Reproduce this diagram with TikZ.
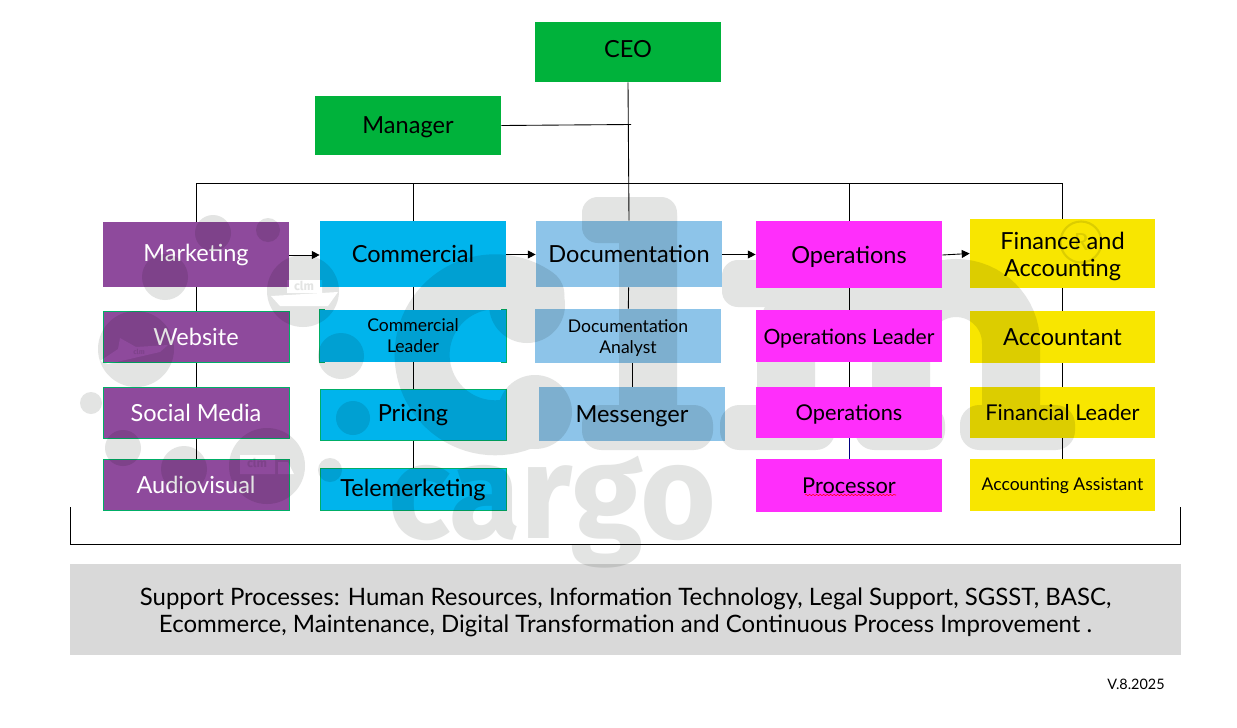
\documentclass[tikz,border=0pt]{standalone}
\usepackage{xcolor}
\usepackage{fontspec}
\setmainfont{Lato}
\newfontfamily\wmfont{Fira Sans}
\usetikzlibrary{calc,arrows.meta,decorations.pathmorphing}
\definecolor{orggreen}{HTML}{00B23B}
\definecolor{edgegreen}{HTML}{00AE66}
\definecolor{orgpurple}{HTML}{8E4A9C}
\definecolor{orgcyan}{HTML}{00B4EC}
\definecolor{orgblue}{HTML}{8DC4E9}
\definecolor{orgpink}{HTML}{FF2EFB}
\definecolor{orgyellow}{HTML}{F8E600}
\definecolor{orggrey}{HTML}{D9D9D9}
\definecolor{wmgrey}{HTML}{E3E4E3}
\begin{document}
\begin{tikzpicture}[x=0.02cm,y=0.02cm]
                \tikzstyle{every node}+=[inner sep=0pt]
                \tikzstyle{box}=[minimum width=3.72cm,align=center,text=black]
                \tikzstyle{lg}=[font=\fontsize{13.4}{15.5}\selectfont]
                \tikzstyle{md}=[font=\fontsize{12.4}{15}\selectfont]
                \tikzstyle{sm}=[font=\fontsize{10}{12}\selectfont]
                \tikzstyle{purplebox}=[box,fill=orgpurple,text=white]
                \tikzstyle{edged}=[draw=edgegreen,line width=0.5pt]
                \tikzstyle{cyanbox}=[box,fill=orgcyan]
                \tikzstyle{blueBox}=[box,fill=orgblue]
                \tikzstyle{pinkbox}=[box,fill=orgpink]
                \tikzstyle{yellowbox}=[box,fill=orgyellow]
                \tikzstyle{wire}=[black,line width=0.5pt]
                \tikzstyle{link}=[wire,-{Triangle[length=4.5pt,width=4.5pt]}]
                \tikzstyle{wm}=[wmgrey,line cap=round]
                \path [fill=white,use as bounding box] (0,0) rectangle (1237,-727);
                % top of the chart
                \node [box,lg,fill=orggreen,minimum height=1.2cm] (ceo) at (628,-52) {\raisebox{3.4pt}{CEO}};
                \node [box,lg,fill=orggreen,minimum height=1.18cm] (manager) at (408,-125.5) {\rule{0pt}{11pt}Manager};
                % marketing column
                \node [purplebox,lg,minimum height=1.3cm] (marketing) at (196,-254.5) {\raisebox{1.2pt}{Marketing}};
                \node [purplebox,edged,lg,minimum height=1.03cm] (website) at (196,-337) {Website};
                \node [purplebox,edged,lg,minimum height=1.03cm] (socialmedia) at (196,-413) {Social Media};
                \node [purplebox,edged,lg,minimum height=1.03cm] (audiovisual) at (196,-485) {Audiovisual};
                % commercial column
                \node [cyanbox,lg,minimum height=1.32cm] (commercial) at (413,-254) {Commercial};
                \node [cyanbox,sm,minimum height=1.04cm] (comleader) at (413,-336) {Commercial\\Leader};
                \node [cyanbox,edged,lg,minimum height=1.03cm] (pricing) at (413,-415) {Pricing};
                \node [cyanbox,edged,lg,minimum height=0.85cm] (telemerketing) at (413,-489.5) {Telemerketing};
                \draw [edgegreen,line width=0.4pt] ([xshift=0.1cm]comleader.north west) -- (comleader.north west) -- (comleader.south west) -- ([xshift=0.1cm]comleader.south west);
                \draw [edgegreen,line width=0.4pt] ([xshift=-0.1cm]comleader.north east) -- (comleader.north east) -- (comleader.south east) -- ([xshift=-0.1cm]comleader.south east);
                % documentation column
                \node [blueBox,lg,minimum height=1.32cm] (documentation) at (629,-254) {Documentation};
                \node [blueBox,sm,minimum height=1.08cm] (docanalyst) at (628,-336) {\rule{0pt}{9.6pt}Documentation\\Analyst};
                \node [blueBox,lg,minimum height=1.08cm] (messenger) at (632,-414) {\rule{0pt}{12pt}Messenger};
                % finance column
                \node [yellowbox,lg,minimum height=1.38cm,minimum width=3.7cm] (finance) at (1062.5,-253.5) {\rule{0pt}{13pt}Finance and\\Accounting};
                \node [yellowbox,lg,minimum height=1.04cm,minimum width=3.7cm] (accountant) at (1062.5,-337) {Accountant};
                \node [yellowbox,md,minimum height=1.02cm,minimum width=3.7cm] (finleader) at (1062.5,-412.5) {Financial Leader};
                \node [yellowbox,sm,minimum height=1.04cm,minimum width=3.7cm] (accassistant) at (1062.5,-485) {\rule{0pt}{8.4pt}Accounting Assistant};
                % support bar and version
                \node [fill=orggrey,minimum width=22.22cm,minimum height=1.82cm,align=center,font=\fontsize{13.65}{15.4}\selectfont] (support) at (625.5,-609.5) {\rule{0pt}{13pt}Support Processes: Human Resources, Information Technology, Legal Support, SGSST, BASC,\\Ecommerce, Maintenance, Digital Transformation and Continuous Process Improvement .};
                \node [font=\fontsize{8.2}{10}\selectfont] (version) at (1136,-684) {V.8.2025};
                % watermark
                \begin{scope}[blend mode=multiply]
                \begin{scope}[transparency group]
                \fill [wm] (165,-277) circle (23);
                \fill [wm] (213,-233) circle (18);
                \fill [wm] (268,-230) circle (12);
                \fill [wm] (303,-291) circle (36);
                \fill [wm] (136,-349) circle (38);
                \fill [wm] (91,-403) circle (11);
                \fill [wm] (123,-448) circle (18);
                \fill [wm] (184,-469) circle (23);
                \fill [wm] (267,-466) circle (38);
                \fill [wm] (341,-356) circle (23);
                \fill [wm] (353,-418) circle (17);
                \fill [wm] (330,-470) circle (12);
                % ship, plane, truck
                \fill [white] (271,-296) -- (338,-292) -- (328,-306) -- (280,-306) -- cycle;
                \fill [white] (287,-280) rectangle (322,-293);
                \fill [white] (100,-361) -- (118,-349) -- (120,-338) -- (136,-347) -- (168,-345) -- (160,-352) -- (108,-364) -- cycle;
                \fill [white] (240,-455) rectangle (275,-474);
                \fill [white] (278,-462) -- (288,-462) -- (294,-474) -- (278,-474) -- cycle;
                \node [wmgrey,font=\wmfont\bfseries\fontsize{7}{8}\selectfont] (clmship) at (304,-286) {clm};
                \node [wmgrey,font=\wmfont\bfseries\fontsize{4}{5}\selectfont] (clmplane) at (139,-352) {clm};
                \node [wmgrey,font=\wmfont\bfseries\fontsize{7}{8}\selectfont] (clmtruck) at (257,-463) {clm};
                % c
                \draw [wm,line width=1.1cm] (537,-295) arc (55:305:73);
                \fill [wm] (527,-305) circle (38);
                \fill [wm] (535,-412) circle (37);
                % l
                \fill [wm,rounded corners=9pt] (582,-197) rectangle (677,-243);
                \fill [wm,rounded corners=6pt] (619,-205) rectangle (677,-440);
                \fill [wm,rounded corners=11pt] (582,-405) rectangle (713,-450);
                % m
                \draw [wm,line width=1.16cm,line cap=butt] (786,-430) -- (786,-343) arc (180:0:57.5) -- (901,-430);
                \draw [wm,line width=1.16cm,line cap=butt] (901,-343) arc (180:0:55) -- (1011,-430);
                \fill [wm,rounded corners=9pt] (722,-260) rectangle (790,-307);
                \fill [wm,rounded corners=11pt] (720,-405) rectangle (835,-450);
                \fill [wm,rounded corners=11pt] (855,-405) rectangle (945,-450);
                \fill [wm,rounded corners=11pt] (960,-405) rectangle (1075,-450);
                % cargo
                \node [wmgrey,transform shape,xscale=0.975,font=\wmfont\bfseries\fontsize{76}{80}\selectfont,anchor=base] (cargo) at (552,-538) {cargo};
                % registered mark
                \node [draw=wmgrey,wmgrey,circle,line width=1.2pt,minimum size=0.82cm,font=\wmfont\fontsize{14}{16}\selectfont] (regmark) at (1081,-242) {R};
                \end{scope}
                \end{scope}
                % operations column
                \node [pinkbox,lg,minimum height=1.34cm] (operations) at (849,-254.5) {\rule{0pt}{12pt}Operations};
                \node [pinkbox,font=\fontsize{12}{15}\selectfont,minimum height=1.04cm] (opsleader) at (849,-336) {\rule{0pt}{11.2pt}Operations Leader};
                \node [pinkbox,md,minimum height=1.02cm] (opsrun) at (849,-412.5) {\rule{0pt}{11.4pt}Operations};
                \node [pinkbox,md,minimum height=1.06cm] (processor) at (849,-485.5) {Processor};
                % wires
                \coordinate (busleft) at (196,-183);
                \coordinate (busright) at (1062.5,-183);
                \coordinate (ceoline) at (631,-124.5);
                \coordinate (bracketa) at (70.5,-507);
                \coordinate (bracketb) at (70.5,-544.5);
                \coordinate (bracketc) at (1180.5,-544.5);
                \coordinate (bracketd) at (1180.5,-507);
                \draw [wire] (ceo.south) -- (documentation.north);
                \draw [wire] (manager.east) -- (ceoline);
                \draw [wire] (marketing.north) -- (busleft) -- (busright) -- (finance.north);
                \draw [wire] (commercial.north) -- (commercial.north |- busleft);
                \draw [wire] (operations.north) -- (operations.north |- busleft);
                \draw [wire] (marketing) -- (website);
                \draw [wire] (website) -- (socialmedia);
                \draw [wire] (socialmedia) -- (audiovisual);
                \draw [wire] (commercial) -- (comleader);
                \draw [wire] (comleader) -- (pricing);
                \draw [wire] (pricing) -- (telemerketing);
                \draw [wire] (documentation) -- (docanalyst);
                \draw [wire] (docanalyst.south -| messenger.north) -- (messenger.north);
                \draw [wire] (operations) -- (opsleader);
                \draw [wire] (opsleader) -- (opsrun);
                \draw [wire,color=blue!50!black] (opsrun) -- (processor);
                \draw [wire] (finance) -- (accountant);
                \draw [wire] (accountant) -- (finleader);
                \draw [wire] (finleader) -- (accassistant);
                \draw [link] (marketing.east |- 0,-255) -- (commercial.west |- 0,-255);
                \draw [link] (commercial.east |- 0,-254.5) -- (documentation.west |- 0,-254.5);
                \draw [link] (documentation.east |- 0,-254.5) -- (operations.west |- 0,-254.5);
                \draw [link] (operations.east |- 0,-255) -- (finance.west |- 0,-253.5);
                \draw [wire] (bracketa) -- (bracketb) -- (bracketc) -- (bracketd);
                \draw [red,line width=0.3pt,decorate,decoration={snake,amplitude=0.35pt,segment length=2pt}] (805,-495) -- (896,-495);
            \end{tikzpicture}
\end{document}
